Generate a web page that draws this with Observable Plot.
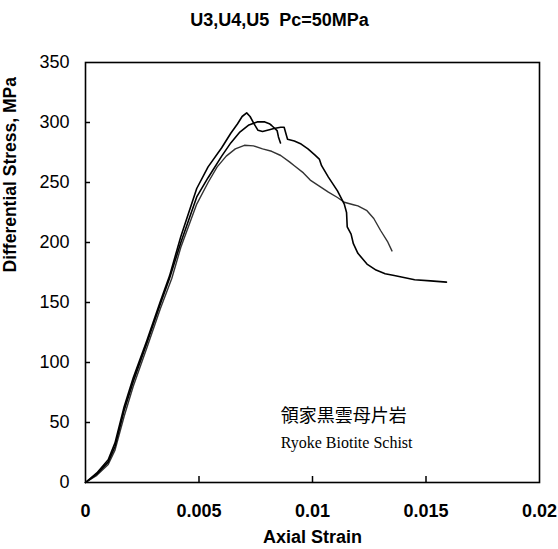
<!DOCTYPE html>
<html>
<head>
<meta charset="utf-8">
<script src="https://cdn.jsdelivr.net/npm/d3@7"></script>
<script src="https://cdn.jsdelivr.net/npm/@observablehq/plot@0.6"></script>
<style>
  html, body { margin: 0; padding: 0; background: #fff; }
  svg text { white-space: pre; }
</style>
</head>
<body>
<div id="chart"></div>
<script>
const titleText = "U3,U4,U5  Pc=50MPa";
const xTitle = "Axial Strain";
const yTitle = "Differential Stress, MPa";
const noteLines = ["領家黒雲母片岩", "Ryoke Biotite Schist"];

const xTicks = [0, 0.005, 0.01, 0.015, 0.02];
const yTicks = [0, 50, 100, 150, 200, 250, 300, 350];

const u3Strain = [0, 0.0005, 0.001, 0.0013, 0.0017, 0.0021, 0.0027, 0.0033, 0.0037, 0.0042, 0.0049, 0.0054, 0.0060, 0.0064, 0.0067, 0.0069, 0.0071, 0.00725, 0.00742, 0.0076, 0.0078, 0.0081, 0.0083, 0.0086, 0.00875, 0.0089, 0.0092, 0.0095, 0.0098, 0.0101, 0.0103, 0.0104, 0.0107, 0.0111, 0.0114, 0.0115, 0.01153, 0.0117, 0.0118, 0.0120, 0.0124, 0.0128, 0.0132, 0.0136, 0.0145, 0.0152, 0.0159];
const u3Stress = [0, 8, 19, 33, 63, 87, 118, 151, 172, 205, 245, 263, 279, 291, 299, 305, 308, 305, 299, 293.5, 292.5, 294, 295, 296, 296, 286, 284.5, 282, 278, 273, 269.5, 264, 254.5, 243, 232, 225, 213, 207, 199, 191, 182, 177, 174, 172.5, 169, 168, 167];

const u4Strain = [0, 0.0005, 0.001, 0.0013, 0.0017, 0.0021, 0.0027, 0.0033, 0.0037, 0.0042, 0.0049, 0.0054, 0.0060, 0.0064, 0.0068, 0.0072, 0.00756, 0.0079, 0.0081, 0.0082, 0.00844, 0.0085, 0.00859];
const u4Stress = [0, 7, 17, 30, 60, 84, 116, 149, 170, 200, 238, 254, 272, 283, 292, 298, 300.5, 300.5, 299, 297.5, 293.3, 288, 283];

const u5Strain = [0, 0.0005, 0.001, 0.0013, 0.0017, 0.0021, 0.0027, 0.0033, 0.0038, 0.0042, 0.0049, 0.0054, 0.0058, 0.0062, 0.0066, 0.0070, 0.0074, 0.0078, 0.0082, 0.0086, 0.0090, 0.0092, 0.0096, 0.0099, 0.0103, 0.0107, 0.0111, 0.0114, 0.0118, 0.0120, 0.0124, 0.0127, 0.0130, 0.0133, 0.0135];
const u5Stress = [0, 6, 15, 27, 55, 80, 112, 145, 170, 196, 232, 250, 263, 272, 278, 281, 280.5, 278, 276, 272.5, 267, 264, 258, 252, 247, 242, 237.5, 233.5, 231.5, 230.5, 226.5, 220, 210, 201, 193];

const noteX = [0.0086, 0.0086];
const noteY = [55.5, 33];

const rows = [];
[["U3", u3Strain, u3Stress], ["U4", u4Strain, u4Stress], ["U5", u5Strain, u5Stress]].forEach(([id, xs, ys]) => {
  xs.forEach((x, i) => rows.push({specimen: id, strain: x, stress: ys[i]}));
});

const W = 558, H = 549, ML = 85, MR = 19, MT = 62, MB = 67;
const frameW = W - ML - MR, frameH = H - MT - MB;
const xDomain = [0, 0.02], yDomain = [0, 350];
// inward tick lengths in pixels, converted to data units
const tickLenX = (xDomain[1] - xDomain[0]) * 5 / frameW;
const tickLenY = (yDomain[1] - yDomain[0]) * 6 / frameH;

const chart = Plot.plot({
  width: W,
  height: H,
  marginLeft: ML,
  marginRight: MR,
  marginTop: MT,
  marginBottom: MB,
  style: {fontFamily: "'Liberation Sans', Arial, sans-serif", background: "white", color: "black"},
  x: {domain: xDomain},
  y: {domain: yDomain},
  marks: [
    Plot.frame({stroke: "black", strokeWidth: 1.6}),
    Plot.axisY(yTicks, {tickSize: 0, tickPadding: 16, fontSize: 18, label: null}),
    Plot.ruleY(yTicks.slice(1, -1), {y: d => d, x1: () => xDomain[0], x2: () => xDomain[0] + tickLenX, stroke: "black", strokeWidth: 1.5}),
    Plot.axisX(xTicks, {tickSize: 0, tickPadding: 22, fontSize: 18, fontWeight: "bold", label: null, tickFormat: d => String(d)}),
    Plot.ruleX(xTicks.slice(1, -1), {x: d => d, y1: () => yDomain[0], y2: () => yDomain[0] + tickLenY, stroke: "black", strokeWidth: 1.5}),
    Plot.line(rows.filter(d => d.specimen === "U5"), {x: "strain", y: "stress", stroke: "#333", strokeWidth: 1.4}),
    Plot.line(rows.filter(d => d.specimen !== "U5"), {x: "strain", y: "stress", z: "specimen", stroke: "#000", strokeWidth: 1.6}),
    Plot.text([titleText], {frameAnchor: "top", lineAnchor: "middle", dx: -33, dy: -42, fontSize: 18, fontWeight: "bold"}),
    Plot.text([xTitle], {frameAnchor: "bottom", lineAnchor: "middle", dy: 55, fontSize: 18, fontWeight: "bold"}),
    Plot.text([yTitle], {frameAnchor: "left", lineAnchor: "middle", rotate: -90, dx: -75, fontSize: 17.5, fontWeight: "bold"}),
    Plot.text([noteLines[0]], {x: [noteX[0]], y: [noteY[0]], textAnchor: "start", lineAnchor: "middle", fontSize: 18, fontFamily: "'Noto Sans CJK JP', sans-serif"}),
    Plot.text([noteLines[1]], {x: [noteX[1]], y: [noteY[1]], textAnchor: "start", lineAnchor: "middle", fontSize: 16, fontFamily: "'Liberation Serif', 'Times New Roman', serif"})
  ]
});
document.getElementById("chart").appendChild(chart);
</script>
</body>
</html>
